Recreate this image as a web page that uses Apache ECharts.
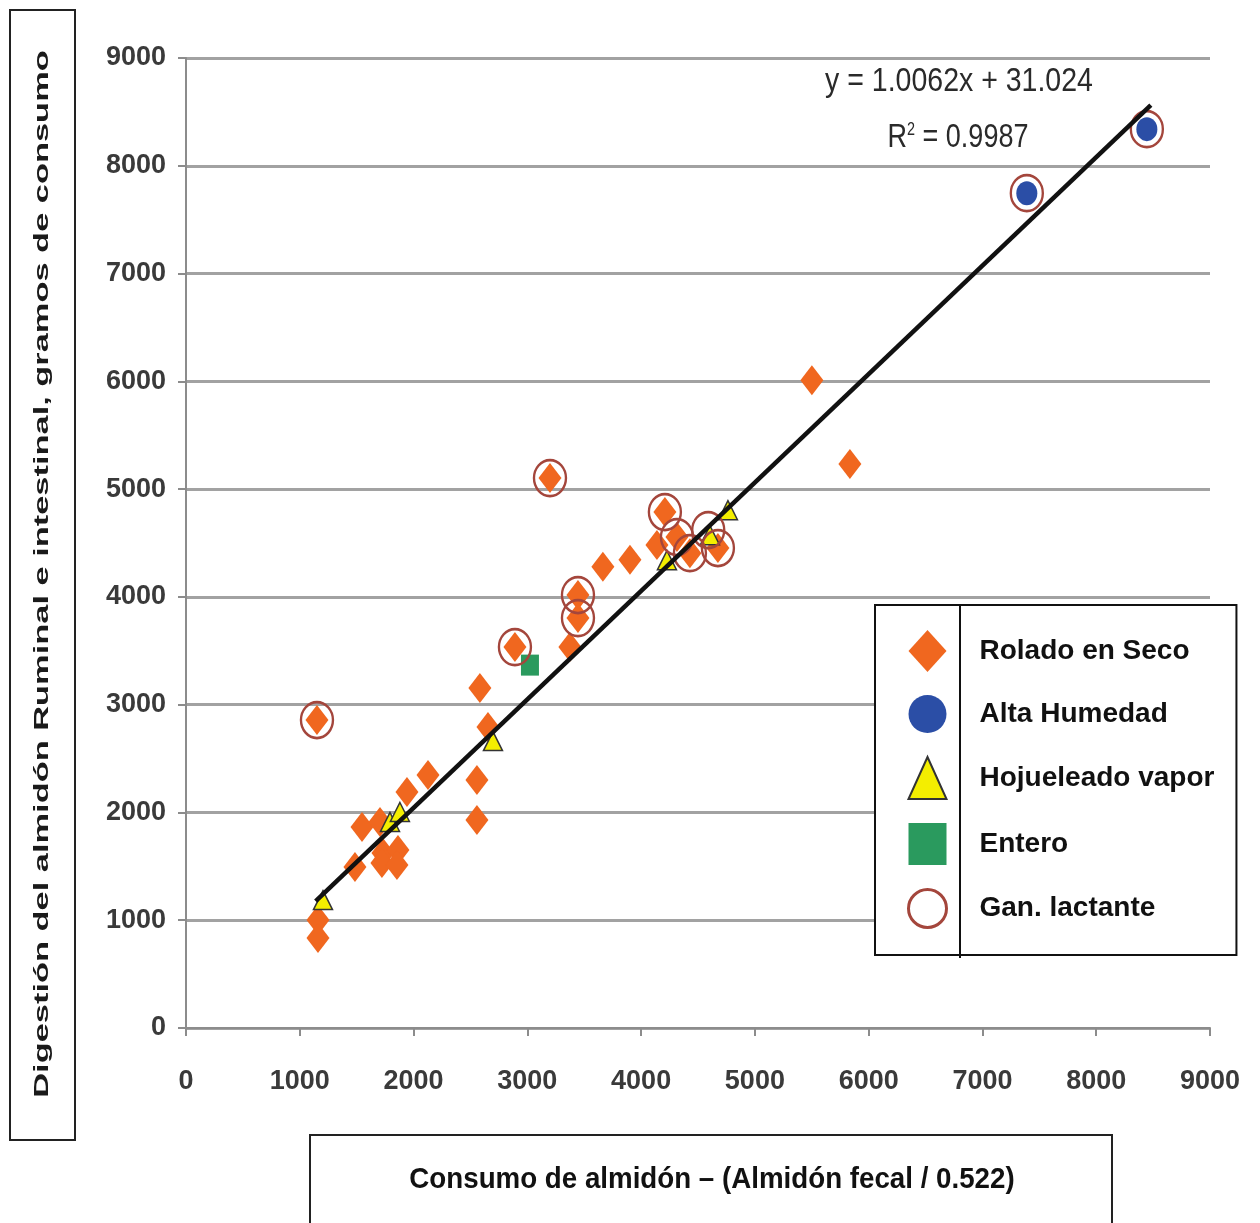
<!DOCTYPE html>
<html>
<head>
<meta charset="utf-8">
<script src="https://cdn.jsdelivr.net/npm/echarts@6/dist/echarts.min.js"></script>
<style>
  html, body { margin: 0; padding: 0; background: #fff; }
  #chart { width: 1260px; height: 1223px; }
</style>
</head>
<body>
<div id="chart"></div>
<script>
// Starch intake (x) vs ruminal + intestinal starch digestion (y), g/day
const roladoEnSeco = [
  [1151, 2857], [1160, 1002], [1160, 835], [1485, 1494], [1547, 1865],
  [1705, 1911], [1731, 1623], [1863, 1651], [1722, 1531], [1854, 1512],
  [1942, 2189], [2127, 2347], [2557, 1929], [2557, 2301], [2654, 2792],
  [2583, 3154], [2891, 3534], [3199, 5102], [3374, 3534], [3445, 4017],
  [3445, 3803], [3664, 4280], [3902, 4345], [4139, 4481], [4209, 4787],
  [4315, 4555], [4429, 4406], [4675, 4453], [5501, 6011], [5835, 5232]
];
const altaHumedad = [[7390, 7746], [8445, 8340]];
const hojueleadoVapor = [
  [1204, 1187], [1793, 1911], [1880, 2004], [2698, 2662],
  [4227, 4341], [4605, 4573], [4763, 4805]
];
const entero = [[3023, 3367]];
const ganLactante = [
  [1151, 2857], [2891, 3534], [3199, 5102], [3445, 4017], [3445, 3803],
  [4209, 4787], [4315, 4555], [4429, 4406], [4590, 4620], [4675, 4453],
  [7390, 7746], [8445, 8340]
];

// Fitted regression: y = 1.0062x + 31.024, R² = 0.9987
const slope = 1.0062;
const intercept = 31.024;
const fitRange = [1140, 8480];
const fitLine = fitRange.map(x => [x, slope * x + intercept]);

const axisTicks = { min: 0, max: 9000, interval: 1000 };

const ORANGE = '#f0671f';
const BLUE = '#2b4ea6';
const YELLOW = '#f4ee00';
const GREEN = '#2a9a5e';
const RING = '#a4463c';

const chart = echarts.init(document.getElementById('chart'), null, { renderer: 'canvas' });

const tickLabel = {
  fontFamily: 'Liberation Sans',
  fontWeight: 'bold',
  fontSize: 27,
  color: '#3a3a3a',
  formatter: v => String(v)
};

chart.setOption({
  animation: false,
  backgroundColor: '#fff',
  grid: { left: 186, right: 50, top: 58, bottom: 195, containLabel: false },
  xAxis: {
    type: 'value',
    min: axisTicks.min, max: axisTicks.max, interval: axisTicks.interval,
    axisLine: { show: true, lineStyle: { color: '#8c8c8c', width: 2 } },
    axisTick: { show: true, length: 8, lineStyle: { color: '#8c8c8c', width: 2 } },
    axisLabel: Object.assign({ margin: 40 }, tickLabel),
    splitLine: { show: false }
  },
  yAxis: {
    type: 'value',
    min: axisTicks.min, max: axisTicks.max, interval: axisTicks.interval,
    axisLine: { show: true, lineStyle: { color: '#8c8c8c', width: 2 } },
    axisTick: { show: true, length: 8, lineStyle: { color: '#8c8c8c', width: 2 } },
    axisLabel: Object.assign({ margin: 20 }, tickLabel),
    splitLine: { show: true, lineStyle: { color: '#a2a2a2', width: 3 } }
  },
  legend: {
    data: [
      { name: 'Rolado en Seco', icon: 'diamond' },
      { name: 'Alta Humedad', icon: 'circle' },
      { name: 'Hojueleado vapor', icon: 'triangle' },
      { name: 'Entero', icon: 'rect' },
      { name: 'Gan. lactante', icon: 'circle',
        itemStyle: { color: 'rgba(0,0,0,0)', borderColor: RING, borderWidth: 3 } }
    ],
    orient: 'vertical',
    left: 875, top: 605,
    padding: [25, 22, 26, 32],
    itemWidth: 38, itemHeight: 42, itemGap: 23,
    backgroundColor: '#fff',
    borderColor: '#111', borderWidth: 2,
    selectedMode: false,
    z: 10,
    textStyle: {
      fontFamily: 'Liberation Sans',
      fontWeight: 'bold',
      fontSize: 28,
      color: '#111',
      padding: [0, 0, 0, 28]
    }
  },
  graphic: [
    // divider inside the legend box
    { type: 'line', z: 100, shape: { x1: 960, y1: 606, x2: 960, y2: 958 },
      style: { stroke: '#111', lineWidth: 2 } },
    // y-axis title box
    { type: 'rect', z: 1, shape: { x: 10, y: 10, width: 65, height: 1130 },
      style: { fill: '#fff', stroke: '#222', lineWidth: 2 } },
    { type: 'text', z: 2, x: 42, y: 574, rotation: Math.PI / 2, scaleX: 1.72, scaleY: 1,
      style: { text: 'Digestión del almidón Ruminal e intestinal, gramos de consumo',
        fontFamily: 'Liberation Sans', fontWeight: 'bold', fontSize: 20,
        fill: '#1a1a1a', align: 'center', verticalAlign: 'middle' } },
    // x-axis title box
    { type: 'rect', z: 1, shape: { x: 310, y: 1135, width: 802, height: 100 },
      style: { fill: '#fff', stroke: '#222', lineWidth: 2 } },
    { type: 'text', z: 2, x: 712, y: 1180, scaleX: 0.99, scaleY: 1.08,
      style: { text: 'Consumo de almidón – (Almidón fecal / 0.522)',
        fontFamily: 'Liberation Sans', fontWeight: 'bold', fontSize: 28,
        fill: '#111', align: 'center', verticalAlign: 'middle' } },
    // regression annotation
    { type: 'text', z: 20, x: 959, y: 82, scaleX: 0.95, scaleY: 1.1,
      style: { text: 'y = 1.0062x + 31.024', fontFamily: 'Liberation Sans',
        fontSize: 30, fill: '#2a2a2a', align: 'center', verticalAlign: 'middle' } },
    { type: 'text', z: 20, x: 958, y: 138, scaleX: 0.9, scaleY: 1.1,
      style: { text: '{r|R}{s|2}{r| = 0.9987}',
        rich: {
          r: { fontFamily: 'Liberation Sans', fontSize: 30, fill: '#2a2a2a' },
          s: { fontFamily: 'Liberation Sans', fontSize: 16, fill: '#2a2a2a', verticalAlign: 'top', padding: [0, 0, 14, 0] }
        },
        align: 'center', verticalAlign: 'middle' } }
  ],
  series: [
    {
      name: 'Rolado en Seco', type: 'scatter', data: roladoEnSeco,
      symbol: 'diamond', symbolSize: [23, 30], z: 3,
      itemStyle: { color: ORANGE, opacity: 1 }
    },
    {
      name: 'Alta Humedad', type: 'scatter', data: altaHumedad,
      symbol: 'circle', symbolSize: [21, 24], z: 3,
      itemStyle: { color: BLUE, opacity: 1 }
    },
    {
      name: 'Hojueleado vapor', type: 'scatter', data: hojueleadoVapor,
      symbol: 'triangle', symbolSize: [19, 19], z: 4,
      itemStyle: { color: YELLOW, borderColor: '#333', borderWidth: 1.5, opacity: 1 }
    },
    {
      name: 'Entero', type: 'scatter', data: entero,
      symbol: 'rect', symbolSize: [18, 21], z: 3,
      itemStyle: { color: GREEN, opacity: 1 }
    },
    {
      name: 'Gan. lactante', type: 'scatter', data: ganLactante,
      symbol: 'circle', symbolSize: [32, 36], z: 5,
      itemStyle: { color: 'rgba(0,0,0,0)', borderColor: RING, borderWidth: 2.5, opacity: 1 }
    },
    {
      name: 'Lineal', type: 'line', data: fitLine, z: 6,
      showSymbol: false, symbol: 'none', silent: true,
      lineStyle: { color: '#111', width: 4.5 }
    }
  ]
});
</script>
</body>
</html>
